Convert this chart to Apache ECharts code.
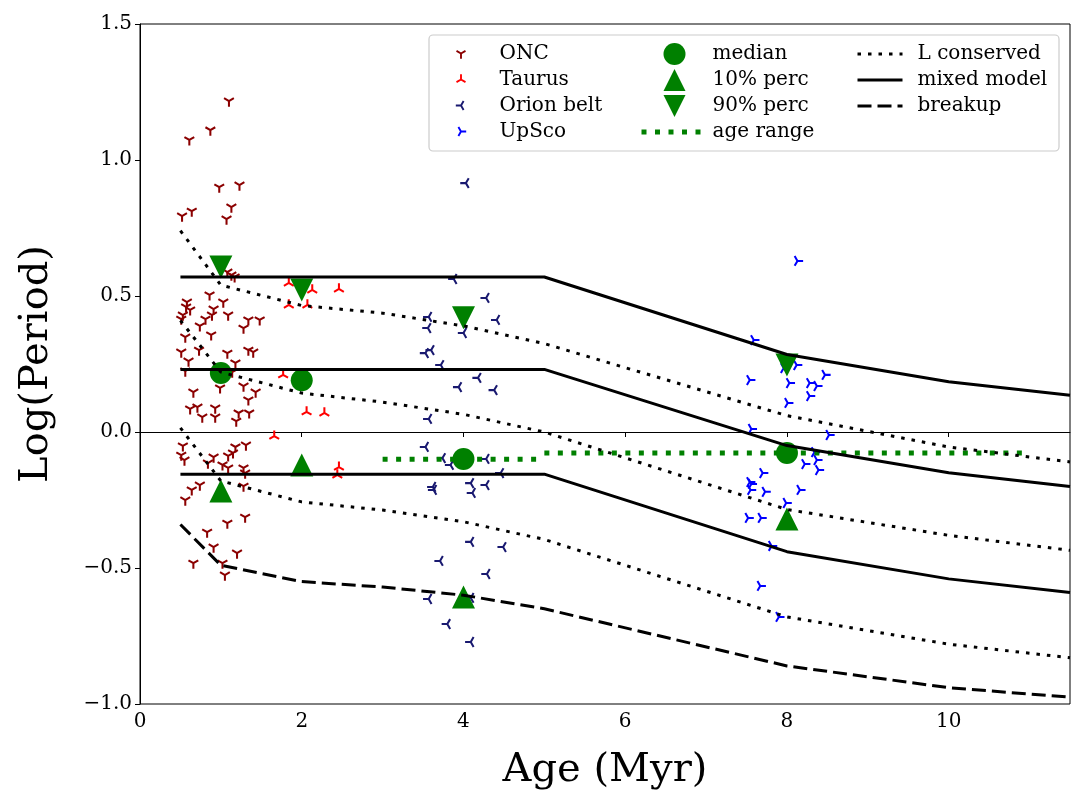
<!DOCTYPE html>
<html><head><meta charset="utf-8">
<script src="https://cdn.jsdelivr.net/npm/echarts@6/dist/echarts.min.js"></script>
<style>html,body{margin:0;padding:0;background:#fff}#c{width:1092px;height:808px}</style>
</head><body><div id="c"></div><script>
// ---- data ----
const onc = [
[1.10,1.217],[0.87,1.11],[0.61,1.074],[0.98,0.90],[1.23,0.908],[1.13,0.827],[1.07,0.783],[0.52,0.794],[0.64,0.812],
[1.08,0.588],[1.13,0.577],[1.17,0.570],
[0.86,0.504],[0.58,0.478],[0.57,0.46],[0.62,0.449],[0.91,0.452],[1.03,0.478],[0.89,0.43],[1.09,0.43],[0.81,0.415],[0.74,0.39],[1.34,0.412],[1.48,0.412],[1.28,0.382],[0.56,0.349],[0.88,0.357],[0.51,0.415],[0.53,0.43],
[0.51,0.294],[0.73,0.301],[1.08,0.29],[0.60,0.261],[1.18,0.254],[1.34,0.301],[1.40,0.294],[0.56,0.224],[1.14,0.22],
[0.99,0.162],[1.28,0.169],[1.43,0.147],[0.66,0.147],[1.34,0.118],[0.62,0.085],[0.71,0.092],[0.77,0.055],[0.93,0.088],[0.93,0.055],[1.22,0.07],[1.35,0.07],[1.19,0.04],
[0.53,-0.051],[0.51,-0.085],[0.55,-0.103],[1.18,-0.055],[1.31,-0.048],[0.91,-0.092],[1.09,-0.088],[0.84,-0.114],[1.02,-0.121],[1.09,-0.132],[1.28,-0.132],[1.30,-0.151],[1.15,-0.077],
[0.74,-0.195],[0.64,-0.213],[0.56,-0.25],[1.28,-0.199],[1.30,-0.313],[1.08,-0.335],[0.83,-0.368],[0.91,-0.423],[1.20,-0.445],[0.66,-0.482],[1.02,-0.482],[1.05,-0.526]
];
const taurus = [
[1.84,0.548],[2.13,0.522],[2.46,0.526],[1.84,0.467],[2.07,0.467],[1.77,0.21],[2.06,0.074],[2.28,0.07],[1.66,-0.015],[2.46,-0.129],[2.44,-0.158]
];
const orionBelt = [
[4.03,0.915],[3.88,0.5625],[4.28,0.493],[4.41,0.412],[3.57,0.423],[3.56,0.382],[4.0,0.364],[3.60,0.301],[3.53,0.29],[3.72,0.246],[3.94,0.165],[4.18,0.199],[4.38,0.154],[3.57,0.048],[3.53,-0.055],[3.74,-0.096],[3.84,-0.121],[4.28,-0.099],[4.46,-0.151],[3.62,-0.202],[3.63,-0.213],[4.09,-0.188],[4.11,-0.224],[4.28,-0.195],[4.09,-0.404],[4.49,-0.423],[3.71,-0.474],[4.29,-0.522],[3.57,-0.614],[4.09,-0.61],[3.80,-0.706],[4.09,-0.772]
];
const upSco = [
[8.13,0.629],[7.59,0.338],[7.96,0.235],[8.12,0.246],[7.54,0.191],[8.03,0.18],[8.28,0.18],[8.37,0.169],[8.47,0.21],[8.28,0.132],[8.01,0.107],[7.56,0.011],[8.52,-0.011],[8.34,-0.074],[8.37,-0.103],[8.22,-0.118],[8.39,-0.14],[7.70,-0.151],[7.54,-0.184],[7.56,-0.191],[7.55,-0.213],[7.73,-0.22],[8.16,-0.213],[7.99,-0.261],[7.52,-0.316],[7.68,-0.316],[7.81,-0.419],[7.67,-0.566],[7.90,-0.68]
];
const statAges = [1, 2, 4, 8];
const median = [0.217, 0.19, -0.099, -0.077];
const perc10 = [-0.217, -0.121, -0.607, -0.32];
const perc90 = [0.607, 0.522, 0.42, 0.246];
const ageRange4 = [[3, -0.1], [5, -0.1]];
const ageRange8 = [[5, -0.077], [11, -0.077]];
const modelAges = [0.5, 1, 2, 3, 4, 5, 8, 10, 11.5];
const lCons1 = [0.74, 0.54, 0.465, 0.437, 0.39, 0.325, 0.06, -0.055, -0.11];
const lCons2 = [0.41, 0.22, 0.143, 0.11, 0.065, 0.0, -0.285, -0.38, -0.435];
const lCons3 = [0.015, -0.18, -0.257, -0.287, -0.33, -0.395, -0.68, -0.78, -0.83];
const breakup = [-0.34, -0.49, -0.55, -0.57, -0.6, -0.65, -0.86, -0.94, -0.975];
const mixedAges = [0.5, 5, 8, 10, 11.5];
const mixed1 = [0.57, 0.57, 0.285, 0.185, 0.135];
const mixed2 = [0.23, 0.23, -0.05, -0.15, -0.2];
const mixed3 = [-0.155, -0.155, -0.44, -0.54, -0.59];
const xTicks = [0, 2, 4, 6, 8, 10];

// ---- symbols ----
function triPath(stemDeg) {
  const L = 1, w = 0.18, back = 0.1; let s = '';
  [stemDeg, stemDeg + 120, stemDeg + 240].forEach(a => {
    const r = a * Math.PI / 180, dx = Math.cos(r), dy = Math.sin(r), nx = -dy, ny = dx;
    const pts = [[nx*w - dx*back, ny*w - dy*back], [nx*w + dx*L, ny*w + dy*L], [-nx*w + dx*L, -ny*w + dy*L], [-nx*w - dx*back, -ny*w - dy*back]];
    s += 'M' + pts.map(p => (p[0]*10).toFixed(2) + ' ' + (p[1]*10).toFixed(2)).join('L') + 'Z';
  });
  const e = 10.6;
  [[e,0],[-e,0],[0,e],[0,-e]].forEach(p => { s += 'M' + p[0] + ' ' + p[1] + 'L' + p[0] + ' ' + p[1] + 'Z'; });
  return 'path://' + s;
}
const TRI_DOWN = triPath(90), TRI_UP = triPath(270), TRI_LEFT = triPath(180), TRI_RIGHT = triPath(0);
const UP_TRI = 'path://M0 -10L10 10L-10 10Z';
const DOWN_TRI = 'path://M0 10L10 -10L-10 -10Z';

const zip = (xs, ys) => xs.map((x, i) => [x, ys[i]]);
const FONT = 'DejaVu Serif';

function scat(name, data, sym, color) {
  return { type: 'scatter', name, data, symbol: sym, symbolSize: 12, symbolKeepAspect: true,
    itemStyle: { color, opacity: 1 }, z: 2, silent: true };
}
function line(name, data, style, z) {
  return { type: 'line', name, data, symbol: 'none', showSymbol: false, z: z || 5, silent: true,
    itemStyle: { color: 'rgba(0,0,0,0)' }, lineStyle: style };
}
const dotted = { color: '#000', width: 3, type: [3.5, 7], cap: 'butt' };
const solid = { color: '#000', width: 3, type: 'solid' };
const dashed = { color: '#000', width: 3, type: [14, 6], cap: 'butt' };
const green = { color: '#008000', width: 5, type: [5, 8.5], cap: 'butt' };

const series = [
  scat('ONC', onc, TRI_DOWN, '#8b0000'),
  scat('Taurus', taurus, TRI_UP, '#ff0000'),
  scat('Orion belt', orionBelt, TRI_LEFT, '#191970'),
  scat('UpSco', upSco, TRI_RIGHT, '#0000ff'),
  line('age range', ageRange4, green, 3),
  line('age range', ageRange8, green, 3),
  { type: 'scatter', name: 'median', data: zip(statAges, median), symbol: 'circle', symbolSize: 22, itemStyle: { color: '#008000', opacity: 1 }, z: 4, silent: true },
  { type: 'scatter', name: '10% perc', data: zip(statAges, perc10), symbol: UP_TRI, symbolSize: 23, itemStyle: { color: '#008000', opacity: 1 }, z: 4, silent: true },
  { type: 'scatter', name: '90% perc', data: zip(statAges, perc90), symbol: DOWN_TRI, symbolSize: 23, itemStyle: { color: '#008000', opacity: 1 }, z: 4, silent: true },
  line('L conserved', zip(modelAges, lCons1), dotted),
  line('L conserved', zip(modelAges, lCons2), dotted),
  line('L conserved', zip(modelAges, lCons3), dotted),
  line('mixed model', zip(mixedAges, mixed1), solid),
  line('mixed model', zip(mixedAges, mixed2), solid),
  line('mixed model', zip(mixedAges, mixed3), solid),
  line('breakup', zip(modelAges, breakup), dashed)
];

const legendText = { fontFamily: FONT, fontSize: 20, color: '#000' };
const option = {
  animation: false,
  backgroundColor: '#fff',
  grid: { left: 140, right: 22, top: 24, bottom: 104, show: true, borderColor: '#000', borderWidth: 1, backgroundColor: 'transparent' },
  xAxis: {
    type: 'value', min: 0, max: 11.5,
    name: 'Age (Myr)', nameLocation: 'middle', nameGap: 47,
    nameTextStyle: { fontFamily: FONT, fontSize: 40, color: '#000' },
    axisLine: { lineStyle: { color: '#000', width: 1 } },
    axisTick: { inside: false, length: 5, lineStyle: { color: '#000' }, customValues: xTicks },
    axisLabel: { fontFamily: FONT, fontSize: 20, color: '#000', margin: 8, customValues: xTicks },
    splitLine: { show: false }
  },
  yAxis: {
    type: 'value', min: -1, max: 1.5, interval: 0.5,
    name: 'Log(Period)', nameLocation: 'middle', nameGap: 83, nameRotate: 90,
    nameTextStyle: { fontFamily: FONT, fontSize: 40, color: '#000' },
    axisLine: { show: true, lineStyle: { color: '#000', width: 1 } },
    axisTick: { show: true, inside: false, length: 5, lineStyle: { color: '#000' } },
    axisLabel: { fontFamily: FONT, fontSize: 20, color: '#000', margin: 8,
      formatter: v => v.toFixed(1).replace('-', '\u2212') },
    splitLine: { show: false }
  },
  graphic: [{
    type: 'rect', z: 3, shape: { x: 429, y: 35, width: 630, height: 116, r: 4 },
    style: { fill: 'rgba(255,255,255,0.85)', stroke: '#cccccc', lineWidth: 1.2 }
  }],
  legend: [
    { data: ['ONC', 'Taurus', 'Orion belt', 'UpSco'], orient: 'vertical', left: 455.5, top: 43.5, padding: 0,
      itemWidth: 11, itemHeight: 11, itemGap: 6, selectedMode: false,
      itemStyle: { opacity: 1 },
      textStyle: Object.assign({ padding: [0, 0, 0, 28] }, legendText) },
    { data: ['median', '10% perc', '90% perc', 'age range'], orient: 'vertical', left: 639, top: 43, padding: 0,
      itemWidth: 66, itemHeight: 22, itemGap: 4, selectedMode: false,
      itemStyle: { opacity: 1 },
      lineStyle: { width: 'inherit' },
      textStyle: Object.assign({ lineHeight: 22 }, legendText) },
    { data: ['L conserved', 'mixed model', 'breakup'], orient: 'vertical', left: 856, top: 44, padding: 0,
      itemWidth: 45, itemHeight: 12, itemGap: 6, selectedMode: false,
      lineStyle: { width: 'inherit' },
      textStyle: Object.assign({ padding: [0, 0, 0, 10] }, legendText) }
  ],
  series
};
const chart = echarts.init(document.getElementById('c'), null, { renderer: 'canvas' });
chart.setOption(option);
</script></body></html>
